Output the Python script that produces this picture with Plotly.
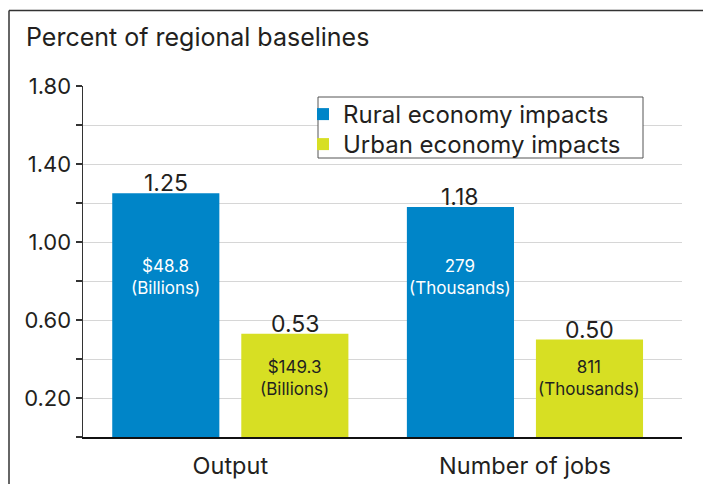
import plotly.graph_objects as go

categories = ["Output", "Number of jobs"]
series_names = ["Rural economy impacts", "Urban economy impacts"]
rural_values = [1.25, 1.18]
urban_values = [0.53, 0.50]
rural_inner = ["$48.8<br>(Billions)", "279<br>(Thousands)"]
urban_inner = ["$149.3<br>(Billions)", "811<br>(Thousands)"]
tick_values = [0, 0.2, 0.4, 0.6, 0.8, 1.0, 1.2, 1.4, 1.6, 1.8]
tick_labels = ["", "0.20", "", "0.60", "", "1.00", "", "1.40", "", "1.80"]
title_text = "Percent of regional baselines"

BLUE = "#0085C8"
YELLOW = "#D7DF23"
TXT = "#231F20"
FONT = "Inter, Roboto, Arial, sans-serif"

W, H = 703, 484
# plot-area edges in window pixels
PL, PR, PT, PB = 83, 682, 86, 437
L, R, T, B = PL, W - PR, PT, H - PB
PW, PH = PR - PL, PB - PT

BARGAP = 0.124
BARGROUPGAP = 0.17
SLOT_OFFSET = (1 - BARGAP) / 4  # centre of each bar relative to its category


def px_to_paper_x(px):
    return (px - PL) / PW


def px_to_paper_y(py):
    return (PB - py) / PH


fig = go.Figure()
fig.add_trace(go.Bar(x=categories, y=rural_values, name=series_names[0], legend="legend",
                     marker=dict(color=BLUE, line=dict(width=0)), hoverinfo="skip"))
fig.add_trace(go.Bar(x=categories, y=urban_values, name=series_names[1], legend="legend2",
                     marker=dict(color=YELLOW, line=dict(width=0)), hoverinfo="skip"))

annotations = []
offsets = [-SLOT_OFFSET, SLOT_OFFSET]
for vals, off in ((rural_values, offsets[0]), (urban_values, offsets[1])):
    for i, v in enumerate(vals):
        annotations.append(dict(x=i + off, y=v, xref="x", yref="y", text=f"{v:.2f}",
                                showarrow=False, yanchor="bottom", yshift=-6,
                                font=dict(family=FONT, size=23, color=TXT)))
for i, t in enumerate(rural_inner):
    annotations.append(dict(x=i + offsets[0], y=0.82, xref="x", yref="y", text=t,
                            showarrow=False, yanchor="middle",
                            font=dict(family=FONT, size=17, color="white")))
for i, t in enumerate(urban_inner):
    annotations.append(dict(x=i + offsets[1], y=0.305, xref="x", yref="y", text=t,
                            showarrow=False, yanchor="middle",
                            font=dict(family=FONT, size=17, color=TXT)))
annotations.append(dict(x=px_to_paper_x(24), y=px_to_paper_y(37), xref="paper", yref="paper",
                        text=title_text, showarrow=False, xanchor="left", yanchor="middle",
                        font=dict(family=FONT, size=25, color=TXT)))

shapes = [
    dict(type="line", xref="paper", yref="paper", x0=px_to_paper_x(9), x1=px_to_paper_x(710),
         y0=px_to_paper_y(10.5), y1=px_to_paper_y(10.5), line=dict(color="#333333", width=1.5)),
    dict(type="line", xref="paper", yref="paper", x0=px_to_paper_x(9), x1=px_to_paper_x(9),
         y0=px_to_paper_y(10.5), y1=px_to_paper_y(490), line=dict(color="#333333", width=1.5)),
    dict(type="rect", xref="paper", yref="paper", layer="above",
         x0=px_to_paper_x(318), x1=px_to_paper_x(643), y0=px_to_paper_y(97), y1=px_to_paper_y(158),
         fillcolor="white", line=dict(color="#555555", width=1)),
]

legend_common = dict(xanchor="left", yanchor="middle", bgcolor="rgba(0,0,0,0)", borderwidth=0,
                     font=dict(family=FONT, size=24, color=TXT), itemsizing="constant")

fig.update_layout(
    width=W, height=H,
    margin=dict(l=L, r=R, t=T, b=B, pad=0, autoexpand=False),
    paper_bgcolor="white", plot_bgcolor="white",
    barmode="group", bargap=BARGAP, bargroupgap=BARGROUPGAP,
    showlegend=True,
    legend=dict(x=px_to_paper_x(303), y=px_to_paper_y(114.5), **legend_common),
    legend2=dict(x=px_to_paper_x(303), y=px_to_paper_y(144.5), **legend_common),
    annotations=annotations,
    shapes=shapes,
    font=dict(family=FONT, color=TXT),
)
fig.update_xaxes(range=[-0.5, 1.533], showline=True, linecolor="#111111", linewidth=1.5,
                 showgrid=False, ticks="", tickfont=dict(family=FONT, size=23.5, color=TXT),
                 ticklabelstandoff=7, zeroline=False, fixedrange=True, automargin=False)
fig.update_yaxes(range=[0, 1.8], tickmode="array", tickvals=tick_values, ticktext=tick_labels,
                 showline=True, linecolor="#333333", linewidth=1.5,
                 ticks="outside", ticklen=6, tickwidth=1.5, tickcolor="#333333",
                 showgrid=True, gridcolor="#d6d6d6", gridwidth=1, zeroline=False,
                 tickfont=dict(family=FONT, size=22, color=TXT), ticklabelstandoff=0,
                 fixedrange=True, automargin=False)

fig.write_html(
    "out.html",
    config={"displayModeBar": False, "staticPlot": True},
    post_script="document.body.style.margin='0';document.body.style.overflow='hidden';",
)
